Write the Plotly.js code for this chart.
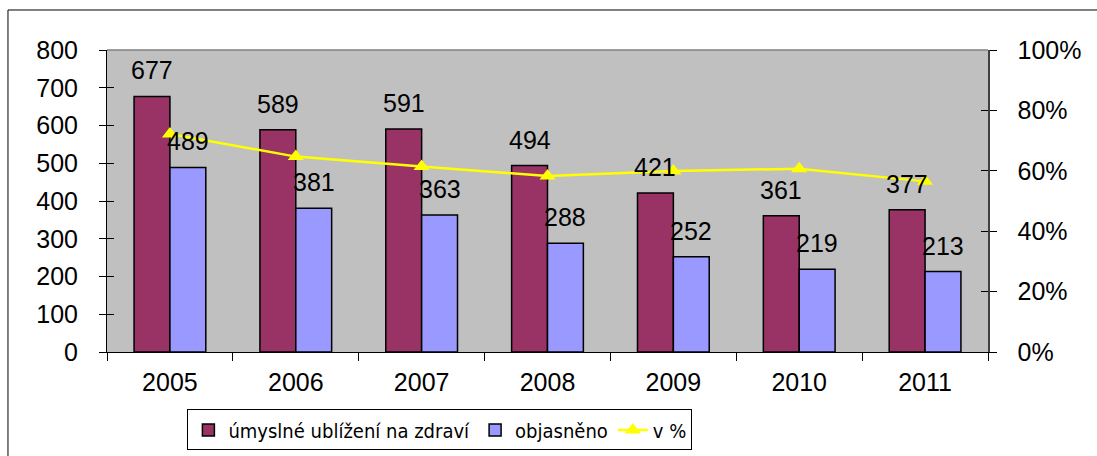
<!DOCTYPE html>
<html>
<head>
<meta charset="utf-8">
<script src="https://cdn.plot.ly/plotly-3.0.1.min.js"></script>
<style>
html,body{margin:0;padding:0;background:#fff;}
#chart{width:1097px;height:456px;}
</style>
</head>
<body>
<div id="chart"></div>
<script>
const years = ["2005","2006","2007","2008","2009","2010","2011"];
const injuries = [677, 589, 591, 494, 421, 361, 377];
const solved = [489, 381, 363, 288, 252, 219, 213];
const percent = [0.722, 0.647, 0.614, 0.583, 0.599, 0.607, 0.565];

const FONT = "Liberation Sans, Arial, sans-serif";
const NARROW = "Liberation Sans Narrow, Arial Narrow, DejaVu Sans Condensed, Liberation Sans, sans-serif";
const BARGAP = 0.43;
const half = (1 - BARGAP) / 4;

const traces = [
  {type:"bar", name:"úmyslné ublížení na zdraví", x:years, y:injuries,
   marker:{color:"#993366", line:{color:"#000", width:1.5}}, yaxis:"y"},
  {type:"bar", name:"objasněno", x:years, y:solved,
   marker:{color:"#9999FF", line:{color:"#000", width:1.5}}, yaxis:"y"},
  {type:"scatter", mode:"lines+markers", name:"v %", x:years, y:percent, yaxis:"y2",
   line:{color:"#FFFF00", width:2.5},
   marker:{symbol:"triangle-up", size:14, color:"#FFFF00"}}
];

const annotations = [];
injuries.forEach((v,i)=>annotations.push({xref:"x", yref:"y", x:i-half, y:v, text:String(v),
  showarrow:false, yanchor:"middle", yshift:26, font:{family:FONT,size:25,color:"#000"}}));
solved.forEach((v,i)=>annotations.push({xref:"x", yref:"y", x:i+half, y:v, text:String(v),
  showarrow:false, yanchor:"middle", yshift:26, font:{family:FONT,size:25,color:"#000"}}));

const layout = {
  width:1097, height:456,
  margin:{l:107, r:109, t:50, b:104, autoexpand:false},
  paper_bgcolor:"#fff", plot_bgcolor:"#C0C0C0",
  barmode:"group", bargap:BARGAP, bargroupgap:0,
  font:{family:FONT, size:25, color:"#000"},
  showlegend:true,
  legend:{orientation:"h", xref:"container", yref:"container", x:0.401, xanchor:"center",
    y:0.102, yanchor:"top",
    bordercolor:"#000", borderwidth:1, bgcolor:"#fff",
    font:{family:NARROW, size:20, color:"#000"}, traceorder:"normal"},
  xaxis:{type:"category", showline:true, linecolor:"#000", linewidth:1, automargin:false,
    ticks:"outside", tickson:"boundaries", ticklen:8, tickcolor:"#000",
    showgrid:false, tickfont:{family:FONT,size:25}, ticklabelstandoff:8},
  yaxis:{range:[0,800], dtick:100, showline:true, linecolor:"#000", linewidth:1, automargin:false,
    ticks:"outside", ticklen:7, tickcolor:"#000", showgrid:false, zeroline:false,
    tickfont:{family:FONT,size:25}, ticklabelstandoff:16},
  yaxis2:{range:[0,1], dtick:0.2, tickformat:".0%", overlaying:"y", side:"right", automargin:false,
    showline:true, linecolor:"#404040", linewidth:1.5,
    ticks:"outside", ticklen:7, tickcolor:"#000", showgrid:false, zeroline:false,
    tickfont:{family:FONT,size:25}, ticklabelstandoff:16},
  yaxis3:{range:[0,800], dtick:100, overlaying:"y", side:"left", showticklabels:false, automargin:false,
    ticks:"inside", ticklen:7, tickcolor:"#000", showgrid:false, zeroline:false, showline:false},
  yaxis4:{range:[0,1], dtick:0.2, overlaying:"y", side:"right", showticklabels:false, automargin:false,
    ticks:"inside", ticklen:7, tickcolor:"#000", showgrid:false, zeroline:false, showline:false},
  annotations:annotations,
  shapes:[
    {type:"line", xref:"paper", yref:"paper", x0:0, x1:1, y0:1, y1:1, line:{color:"#808080", width:1.5}},
    {type:"rect", xref:"paper", yref:"paper", x0:-0.1124, x1:1.3, y0:-0.5, y1:1.1325,
     line:{color:"#000", width:1}, layer:"below"}
  ]
};

traces.push({type:"scatter", x:[years[0]], y:[0], yaxis:"y3", mode:"none", showlegend:false, hoverinfo:"skip"});
traces.push({type:"scatter", x:[years[0]], y:[0], yaxis:"y4", mode:"none", showlegend:false, hoverinfo:"skip"});

Plotly.newPlot("chart", traces, layout, {displayModeBar:false, staticPlot:true});
</script>
</body>
</html>
